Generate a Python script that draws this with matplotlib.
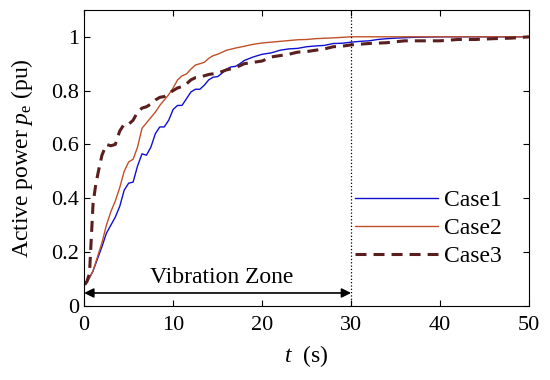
import matplotlib
matplotlib.use("Agg")
import matplotlib.pyplot as plt

plt.rcParams['font.family'] = ['Liberation Serif', 'DejaVu Serif']
plt.rcParams['mathtext.fontset'] = 'custom'
plt.rcParams['mathtext.rm'] = 'Liberation Serif'
plt.rcParams['mathtext.it'] = 'Liberation Serif:italic'

# Case1 (blue)
t1 = [0.2, 1.0, 2.0, 2.5, 3.0, 3.5, 4.0, 4.5, 5.0, 5.5, 6.0, 6.5, 7.0, 7.5, 8.0, 8.5, 9.0, 9.5,
      10.0, 10.5, 11.0, 11.5, 12.0, 12.5, 13.0, 13.5, 14.0, 14.5, 15.0, 15.5, 16.0, 16.5, 17.0,
      17.5, 18.0, 19.0, 20.0, 21.0, 22.0, 23.0, 24.0, 25.0, 26.0, 27.0, 28.0, 29.0, 30.0, 31.0,
      32.0, 33.0, 34.0, 35.0, 37.0, 40.0, 45.0, 50.0]
p1 = [0.08, 0.13, 0.22, 0.27, 0.30, 0.33, 0.37, 0.43, 0.456, 0.46, 0.52, 0.565, 0.56, 0.59, 0.64,
      0.665, 0.665, 0.69, 0.73, 0.745, 0.745, 0.77, 0.795, 0.805, 0.805, 0.82, 0.84, 0.85, 0.852,
      0.865, 0.88, 0.888, 0.89, 0.90, 0.912, 0.925, 0.935, 0.94, 0.95, 0.955, 0.957, 0.963, 0.966,
      0.968, 0.975, 0.976, 0.98, 0.983, 0.985, 0.99, 0.993, 0.995, 0.998, 1.0, 1.0, 1.0]

# Case2 (brown)
t2 = [0.2, 1.0, 2.0, 2.5, 3.0, 3.5, 4.0, 4.5, 5.0, 5.5, 6.0, 6.5, 7.0, 7.5, 8.0, 8.5, 9.0, 9.5,
      10.0, 10.5, 11.0, 11.5, 12.0, 12.5, 13.0, 13.5, 14.0, 14.5, 15.0, 16.0, 17.0, 18.0, 19.0,
      20.0, 21.0, 22.0, 23.0, 24.0, 25.0, 26.0, 28.0, 30.0, 35.0, 40.0, 50.0]
p2 = [0.08, 0.13, 0.235, 0.30, 0.35, 0.39, 0.44, 0.50, 0.535, 0.545, 0.59, 0.66, 0.68, 0.70,
      0.72, 0.745, 0.765, 0.785, 0.81, 0.84, 0.855, 0.862, 0.88, 0.895, 0.90, 0.905, 0.92, 0.93,
      0.935, 0.95, 0.958, 0.965, 0.972, 0.977, 0.98, 0.983, 0.986, 0.989, 0.99, 0.993, 0.996,
      1.0, 1.0, 1.0, 1.0]

# Case3 (dashed)
t3 = [0.0, 0.3, 0.6, 0.8, 1.0, 1.3, 1.6, 2.0, 2.5, 3.0, 3.5, 4.0, 4.5, 5.0, 5.5, 6.0, 6.5, 7.0,
      7.5, 8.0, 8.5, 9.0, 9.5, 10.0, 10.5, 11.0, 11.5, 12.0, 12.5, 13.0, 13.5, 14.0, 15.0, 16.0,
      17.0, 18.0, 19.0, 20.0, 21.0, 22.0, 23.0, 24.0, 25.0, 26.0, 27.0, 28.0, 29.0, 30.0, 32.0,
      34.0, 36.0, 38.0, 40.0, 42.0, 44.0, 46.0, 48.0, 50.0]
p3 = [0.08, 0.09, 0.12, 0.25, 0.38, 0.45, 0.50, 0.56, 0.60, 0.595, 0.60, 0.65, 0.675, 0.675,
      0.69, 0.72, 0.735, 0.74, 0.75, 0.765, 0.775, 0.778, 0.79, 0.80, 0.81, 0.815, 0.825, 0.84,
      0.848, 0.85, 0.855, 0.86, 0.865, 0.877, 0.885, 0.90, 0.905, 0.91, 0.925, 0.93, 0.935, 0.943,
      0.945, 0.95, 0.955, 0.963, 0.965, 0.97, 0.975, 0.978, 0.985, 0.985, 0.985, 0.99, 0.99,
      0.993, 0.995, 1.0]

fig = plt.figure(figsize=(5.5, 3.8), dpi=100)
ax = fig.add_axes([0.153, 0.195, 0.809, 0.779])

ax.plot(t1, p1, color='#1010D0', lw=1.0, label='Case1')
ax.plot(t2, p2, color='#C0502A', lw=1.0, label='Case2')
ax.plot(t3, p3, color='#5A1E1E', lw=2.2, ls=(0, (3.6, 2.3)), label='Case3')

ax.axvline(30, color='black', lw=0.9, ls=':')
ax.annotate('', xy=(0, 0.048), xytext=(30, 0.048),
            arrowprops=dict(arrowstyle='<|-|>', color='black', lw=1.2,
                            mutation_scale=14, shrinkA=0, shrinkB=0))
ax.text(15.5, 0.104, 'Vibration Zone', fontsize=17, ha='center', va='center')

ax.set_xlim(0, 50)
ax.set_ylim(0, 1.1)
ax.set_xticks([0, 10, 20, 30, 40, 50])
ax.set_yticks([0, 0.2, 0.4, 0.6, 0.8, 1.0])
ax.set_yticklabels(['0', '0.2', '0.4', '0.6', '0.8', '1'])
ax.tick_params(direction='in', top=True, right=True, labelsize=16, length=4)
ax.tick_params(axis='x', pad=7)
ax.set_xlabel('$t$  (s)', fontsize=17, labelpad=6)
ax.set_ylabel('Active power $p_\\mathrm{e}$ (pu)', fontsize=17, labelpad=12)

ax.legend(loc='upper left', bbox_to_anchor=(0.562, 0.465), frameon=False,
          fontsize=17, handlelength=3.5, handletextpad=0.25, labelspacing=0.27)

fig.savefig('out.png', dpi=100)
